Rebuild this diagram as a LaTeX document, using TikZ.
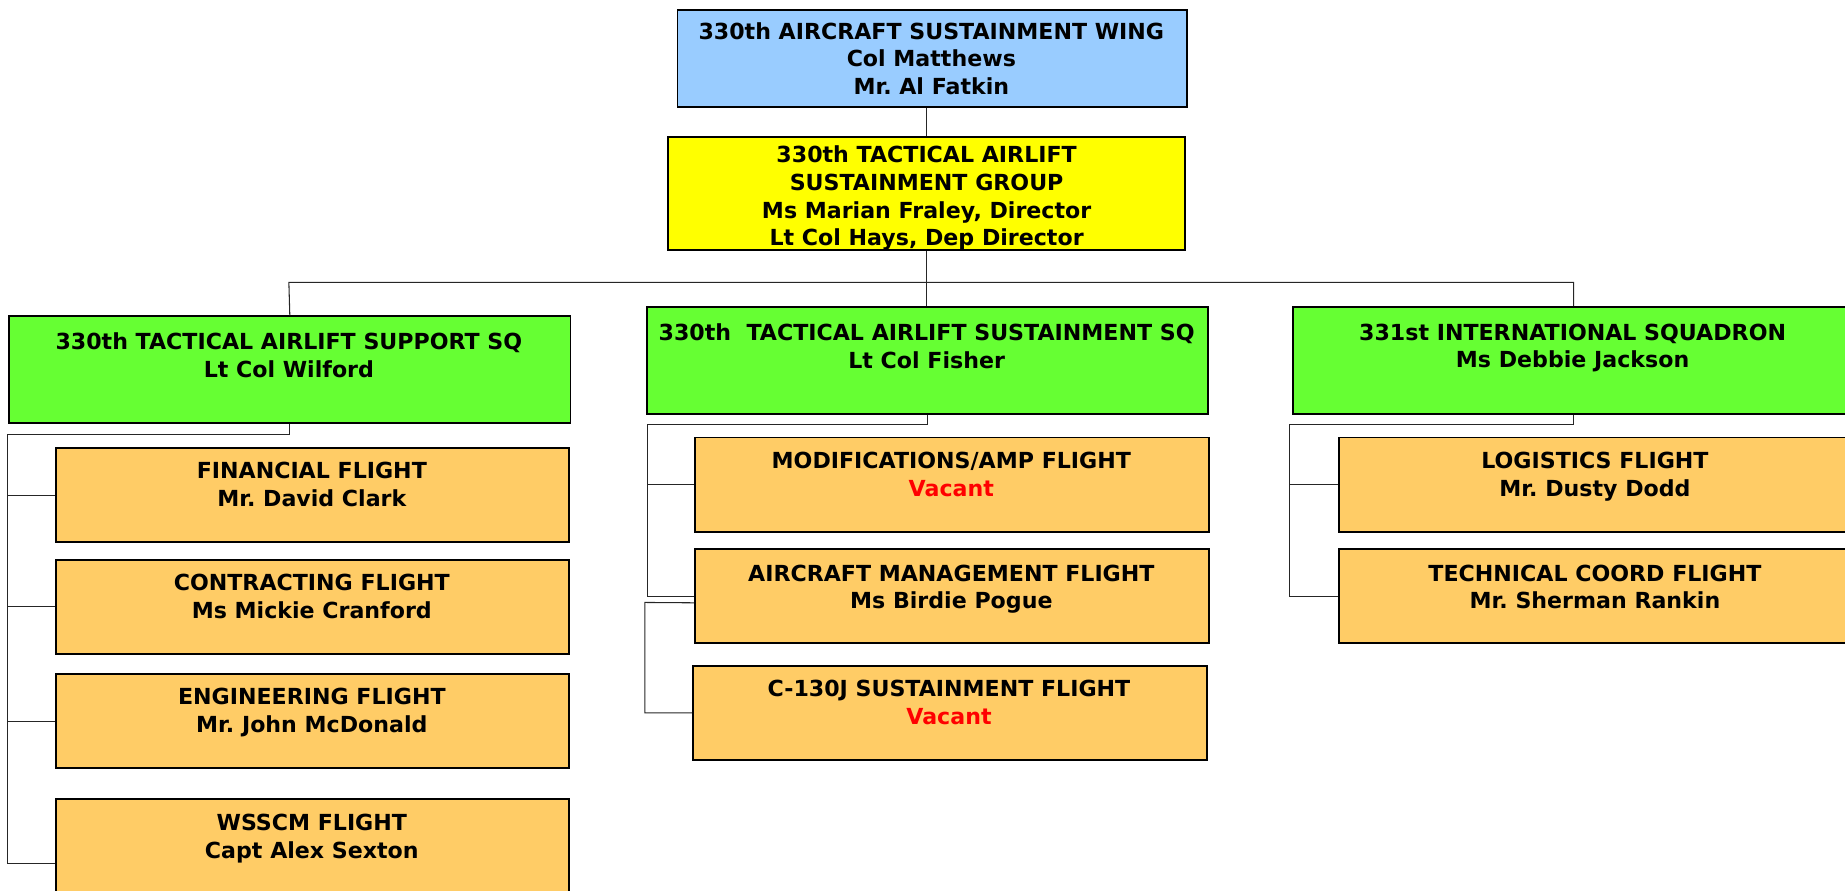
\documentclass[tikz,border=0pt]{standalone}
\usepackage{fontspec}
\setmainfont{DejaVu Sans}
\frenchspacing
\definecolor{wingblue}{HTML}{99CCFF}
\definecolor{grpyellow}{HTML}{FFFF00}
\definecolor{sqgreen}{HTML}{66FF33}
\definecolor{fltorange}{HTML}{FFCC66}
\definecolor{vacred}{HTML}{FF0000}
\begin{document}
\begin{tikzpicture}[x=1pt,y=-1pt,
  box/.style={draw=black, line width=1.6pt, inner sep=0pt, anchor=north west},
  sqbox/.style={box, fill=sqgreen, minimum width=477pt, minimum height=91pt},
  fltbox/.style={box, fill=fltorange, minimum width=437pt, minimum height=80pt},
  lbl/.style={font=\fontsize{18.8}{23.5}\selectfont\bfseries\frenchspacing, align=center, anchor=north, inner sep=0pt},
  conn/.style={draw=black!85, line width=0.9pt}]
\useasboundingbox (0,0) rectangle (1568,757.2);
\clip (0,0) rectangle (1568,757.2);

% boxes
\node[box, fill=wingblue, minimum width=433pt, minimum height=82pt] (wing) at (575,8) {};
\node[box, fill=grpyellow, minimum width=439pt, minimum height=96pt] (group) at (567,116) {};
\node[sqbox] (lsq) at (7,268) {};
\node[sqbox] (msq) at (549,260) {};
\node[sqbox] (rsq) at (1098,260) {};
\node[fltbox, minimum width=436pt] (f1) at (47,380) {};
\node[fltbox, minimum width=436pt] (f2) at (47,475) {};
\node[fltbox, minimum width=436pt] (f3) at (47,572) {};
\node[fltbox, minimum width=436pt, minimum height=90pt] (f4) at (47,678) {};
\node[fltbox] (m1) at (590,371) {};
\node[fltbox] (m2) at (590,466) {};
\node[fltbox] (m3) at (588,565) {};
\node[fltbox] (r1) at (1137,371) {};
\node[fltbox] (r2) at (1137,466) {};

% texts
\node[lbl] (wingT) at (791.5,18.9) {330th AIRCRAFT SUSTAINMENT WING\\Col Matthews\\Mr. Al Fatkin};
\node[lbl] (groupT) at (787.5,123.9) {330th TACTICAL AIRLIFT\\SUSTAINMENT GROUP\\Ms Marian Fraley, Director\\Lt Col Hays, Dep Director};
\node[lbl] (lsqT) at (245.5,282.9) {330th TACTICAL AIRLIFT SUPPORT SQ\\Lt Col Wilford};
\node[lbl] (msqT) at (787.5,274.9) {330th\ \ TACTICAL AIRLIFT SUSTAINMENT SQ\\Lt Col Fisher};
\node[lbl] (rsqT) at (1336.5,274.9) {331st INTERNATIONAL SQUADRON\\Ms Debbie Jackson};
\node[lbl] (f1T) at (265,392.9) {FINANCIAL FLIGHT\\Mr. David Clark};
\node[lbl] (f2T) at (265,487.9) {CONTRACTING FLIGHT\\Ms Mickie Cranford};
\node[lbl] (f3T) at (265,584.9) {ENGINEERING FLIGHT\\Mr. John McDonald};
\node[lbl] (f4T) at (265,691.9) {WSSCM FLIGHT\\Capt Alex Sexton};
\node[lbl] (m1T) at (808.5,383.9) {MODIFICATIONS/AMP FLIGHT\\\textcolor{vacred}{Vacant}};
\node[lbl] (m2T) at (808.5,479.9) {AIRCRAFT MANAGEMENT FLIGHT\\Ms Birdie Pogue};
\node[lbl] (m3T) at (806.5,577.9) {C-130J SUSTAINMENT FLIGHT\\\textcolor{vacred}{Vacant}};
\node[lbl] (r1T) at (1355.5,383.9) {LOGISTICS FLIGHT\\Mr. Dusty Dodd};
\node[lbl] (r2T) at (1355.5,479.9) {TECHNICAL COORD FLIGHT\\Mr. Sherman Rankin};

% connectors
\coordinate (busL) at (245.5,240);
\coordinate (lbr) at (6,369);
\coordinate (mbr) at (550,361);
\coordinate (mbr2) at (548,512);
\coordinate (rbr) at (1096,361);

\draw[conn] (wing.south -| group.north) -- (group.north);
\draw[conn] (group.south) -- (group.south |- msq.north);
\draw[conn] (lsq.north) -- (busL) -| (rsq.north);

\draw[conn] (lsq.south) |- (lbr) |- ([yshift=-10pt]f4.west);
\draw[conn] (lbr |- f1.west) -- (f1.west);
\draw[conn] (lbr |- f2.west) -- (f2.west);
\draw[conn] (lbr |- f3.west) -- (f3.west);

\draw[conn] (msq.south) |- (mbr) |- (m2.west);
\draw[conn] (mbr |- m1.west) -- (m1.west);
\draw[conn] ([yshift=-5.5pt]m2.west) -- (mbr2) |- (m3.west);

\draw[conn] (rsq.south) |- (rbr) |- (r2.west);
\draw[conn] (rbr |- r1.west) -- (r1.west);
\end{tikzpicture}
\end{document}
